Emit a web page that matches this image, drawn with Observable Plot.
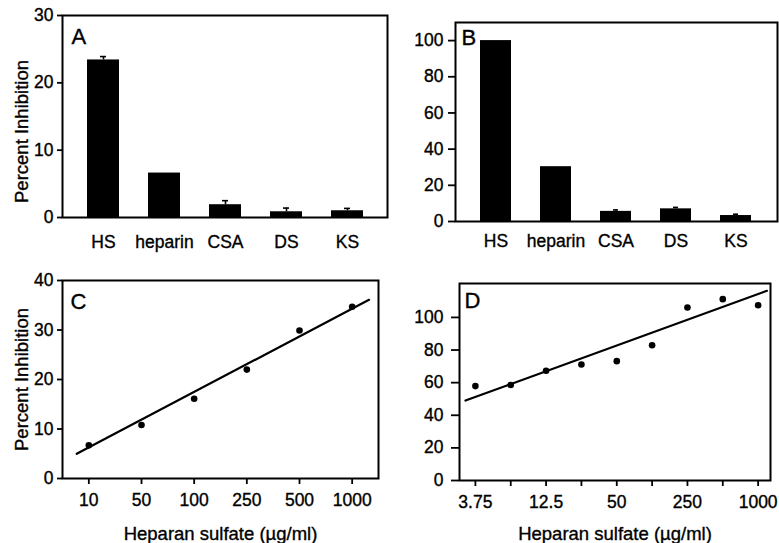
<!DOCTYPE html>
<html>
<head>
<meta charset="utf-8">
<script src="https://cdn.jsdelivr.net/npm/d3@7"></script>
<script src="https://cdn.jsdelivr.net/npm/@observablehq/plot@0.6"></script>
<style>
  body { margin: 0; background: white; }
  #chart { position: relative; width: 779px; height: 543px; background: white; overflow: hidden; }
  #chart svg { position: absolute; }
  #chart svg text { stroke: black; stroke-width: 0.35px; }
</style>
</head>
<body>
<div id="chart"></div>
<script>
// ---- data ----
const categories = ["HS", "heparin", "CSA", "DS", "KS"];
const inhibitionA = [23.4, 6.6, 1.9, 0.85, 1.0];
const errorA = [0.5, 0, 0.6, 0.55, 0.35];
const inhibitionB = [100, 30.3, 5.6, 7.0, 3.3];
const errorB = [0, 0, 0.8, 0.8, 0.7];

const doseLabelsC = ["10", "50", "100", "250", "500", "1000"];
const inhibitionC = [6.7, 10.8, 16.1, 22.0, 29.9, 34.7];
const fitIndexC = [-0.23, 5.32];
const fitValueC = [5.0, 36.1];

const doseLabelsD = ["3.75", "", "12.5", "", "50", "", "250", "", "1000"];
const inhibitionD = [57.9, 58.6, 67.3, 71.1, 73.2, 82.9, 106.1, 111.2, 107.5];
const fitIndexD = [-0.28, 8.25];
const fitValueD = [49.0, 116.3];

const yLabel = "Percent Inhibition";
const xLabel = "Heparan sulfate (µg/ml)";

// ---- drawing ----
const FONT = "'Liberation Sans', Arial, Helvetica, sans-serif";
const chart = document.getElementById("chart");
const baseStyle = {fontFamily: FONT, fontSize: "17.5px", color: "black", background: "transparent", overflow: "visible"};
const LABEL_SIZE = 18.5;

function place(svg, left, top) {
  svg.style.left = left + "px";
  svg.style.top = top + "px";
  chart.appendChild(svg);
}

function barPanel(o) {
  const data = categories.map((c, i) => ({c, v: o.values[i], e: o.errors[i]}));
  const err = data.filter(d => d.e > 0);
  const marks = [
    Plot.barY(data, {x: "c", y: "v", fill: "black"}),
    Plot.ruleX(err, {x: "c", y1: "v", y2: d => d.v + d.e, stroke: "black", strokeWidth: 1.6}),
    Plot.tickY(err, {x: "c", y: d => d.v + d.e, insetLeft: 13, insetRight: 13, stroke: "black", strokeWidth: 1.6}),
    Plot.frame({stroke: "black", strokeWidth: 2}),
    Plot.axisY({ticks: o.yTicks, tickSize: o.tickSize, tickPadding: o.tickPadding, label: null, strokeWidth: 1.8}),
    Plot.axisX({tickSize: 0, tickPadding: o.xPad, label: null}),
    Plot.text([o.letter], {frameAnchor: "top-left", textAnchor: "start", lineAnchor: "top", dx: o.ldx, dy: o.ldy, fontSize: 22})
  ];
  if (o.ylabel) marks.push(Plot.text([o.ylabel], {frameAnchor: "left", rotate: -90, dx: -40, dy: o.ylabelDy, textAnchor: "middle", lineAnchor: "middle", fontSize: LABEL_SIZE}));
  return Plot.plot({
    width: o.width, height: o.height,
    marginLeft: o.ml, marginRight: o.mr, marginTop: o.mt, marginBottom: o.mb,
    style: baseStyle,
    x: {type: "band", domain: categories, paddingInner: 0.48, paddingOuter: 0.385},
    y: {domain: o.yDomain},
    marks
  });
}

function scatterPanel(o) {
  const data = o.values.map((v, i) => ({i, v}));
  const fit = o.fitIndex.map((x, k) => ({i: x, v: o.fitValue[k]}));
  const marks = [
    Plot.line(fit, {x: "i", y: "v", stroke: "black", strokeWidth: 2.2}),
    Plot.dot(data, {x: "i", y: "v", r: 3.3, fill: "black"}),
    Plot.frame({stroke: "black", strokeWidth: 2}),
    Plot.axisY({ticks: o.yTicks, tickSize: o.tickSize, tickPadding: o.tickPadding, label: null, strokeWidth: 1.8}),
    Plot.axisX({ticks: d3.range(o.labels.length), tickFormat: i => o.labels[i], tickSize: 6, tickPadding: 9, label: null, strokeWidth: 1.8}),
    Plot.text([o.letter], {frameAnchor: "top-left", textAnchor: "start", lineAnchor: "top", dx: o.ldx, dy: o.ldy, fontSize: 22}),
    Plot.text([xLabel], {frameAnchor: "bottom", textAnchor: "middle", lineAnchor: "middle", dy: o.xlabelDy, fontSize: LABEL_SIZE})
  ];
  if (o.ylabel) marks.push(Plot.text([o.ylabel], {frameAnchor: "left", rotate: -90, dx: -40, dy: 0, textAnchor: "middle", lineAnchor: "middle", fontSize: LABEL_SIZE}));
  return Plot.plot({
    width: o.width, height: o.height,
    marginLeft: o.ml, marginRight: o.mr, marginTop: o.mt, marginBottom: o.mb,
    style: baseStyle,
    x: {type: "linear", domain: o.xDomain},
    y: {domain: o.yDomain},
    marks
  });
}

place(barPanel({
  values: inhibitionA, errors: errorA, letter: "A", ylabel: yLabel, ylabelDy: 15,
  width: 390, height: 270, ml: 62, mr: 3, mt: 15, mb: 53,
  yDomain: [0, 30], yTicks: [0, 10, 20, 30], tickSize: 5, tickPadding: 4, xPad: 18,
  ldx: 9, ldy: 13
}), 0, 0);

place(barPanel({
  values: inhibitionB, errors: errorB, letter: "B",
  width: 389, height: 270, ml: 65, mr: 2, mt: 22, mb: 49,
  yDomain: [0, 110], yTicks: [0, 20, 40, 60, 80, 100], tickSize: 7, tickPadding: 5, xPad: 13.5,
  ldx: 6, ldy: 6.5
}), 390, 0);

place(scatterPanel({
  values: inhibitionC, labels: doseLabelsC, fitIndex: fitIndexC, fitValue: fitValueC,
  letter: "C", ylabel: yLabel,
  width: 390, height: 273, ml: 62, mr: 12, mt: 10, mb: 65,
  xDomain: [-0.5, 5.5], yDomain: [0, 40], yTicks: [0, 10, 20, 30, 40], tickSize: 5, tickPadding: 4,
  ldx: 8, ldy: 13, xlabelDy: 55.6
}), 0, 270);

place(scatterPanel({
  values: inhibitionD, labels: doseLabelsD, fitIndex: fitIndexD, fitValue: fitValueD,
  letter: "D",
  width: 389, height: 273, ml: 69, mr: 9, mt: 13, mb: 63,
  xDomain: [-0.45, 8.35], yDomain: [0, 120.8], yTicks: [0, 20, 40, 60, 80, 100], tickSize: 8, tickPadding: 8,
  ldx: 5, ldy: 9, xlabelDy: 53.6
}), 390, 270);
</script>
</body>
</html>
